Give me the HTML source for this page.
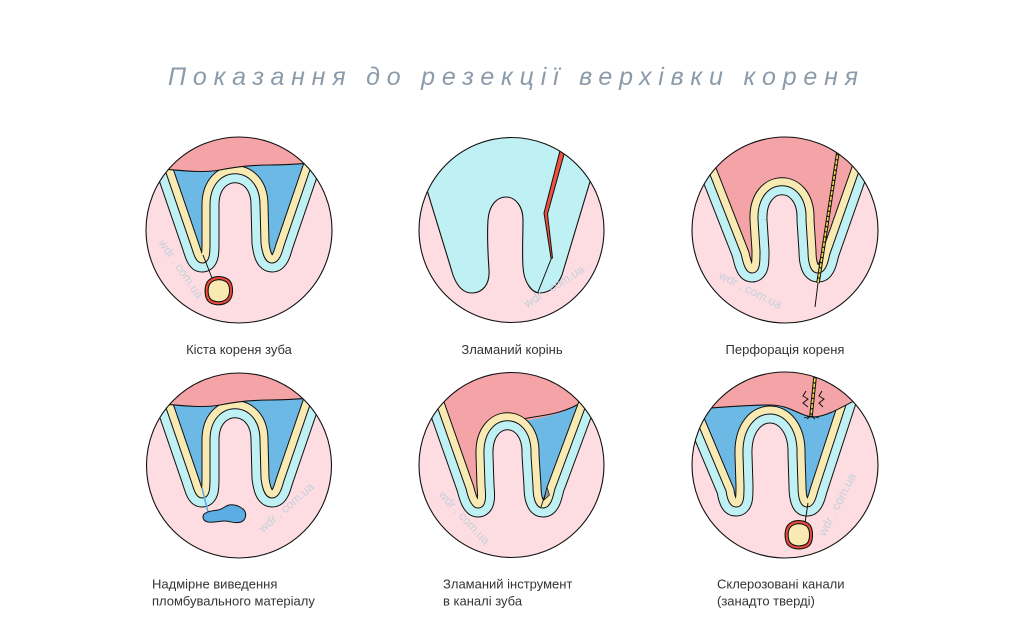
<!DOCTYPE html>
<html>
<head>
<meta charset="utf-8">
<style>
html,body{margin:0;padding:0;background:#fff;}
body{width:1024px;height:642px;overflow:hidden;}
svg{display:block;}
.lbl{font-family:"Liberation Sans",sans-serif;font-size:13px;fill:#333;}
.wm{font-family:"Liberation Sans",sans-serif;font-size:12px;fill:#c6d0dc;}
</style>
</head>
<body>
<svg width="1024" height="642" viewBox="0 0 1024 642" xmlns="http://www.w3.org/2000/svg">
<defs>
<clipPath id="c1"><circle cx="99" cy="105" r="93"/></clipPath>
<clipPath id="c2"><circle cx="101.5" cy="105" r="92.5"/></clipPath>
<clipPath id="c3"><circle cx="100" cy="105" r="93"/></clipPath>
<clipPath id="c4"><circle cx="99" cy="105.5" r="92.5"/></clipPath>
<clipPath id="c5"><circle cx="101.5" cy="105" r="92.5"/></clipPath>
<clipPath id="c6"><circle cx="100" cy="105" r="93"/></clipPath>
</defs>

<!-- Title -->
<text x="168" y="85" textLength="690" lengthAdjust="spacing" font-family="Liberation Sans, sans-serif" font-style="italic" font-size="25" fill="#8c9baa">Показання до резекції верхівки кореня</text>

<!-- ===== Circle 1: cyst ===== -->
<g transform="translate(140,125)">
 <g clip-path="url(#c1)">
  <circle cx="99" cy="105" r="93" fill="#fddde1"/>
  <path d="M7,-20 L55,120 C57,126 59,134 62,134 C66,134 66,126 66,118 L66,80 C66,33 124,33 124,80 L125,118 C126,126 128,134 132,134 C136,134 138,127 140,120 L188,-20" fill="none" stroke="#111" stroke-width="27" stroke-linejoin="round"/>
  <path d="M7,-20 L55,120 C57,126 59,134 62,134 C66,134 66,126 66,118 L66,80 C66,33 124,33 124,80 L125,118 C126,126 128,134 132,134 C136,134 138,127 140,120 L188,-20" fill="none" stroke="#bff0f3" stroke-width="25" stroke-linejoin="round"/>
  <path d="M7,-20 L55,120 C57,126 59,134 62,134 C66,134 66,126 66,118 L66,80 C66,33 124,33 124,80 L125,118 C126,126 128,134 132,134 C136,134 138,127 140,120 L188,-20 Z" fill="#6cb9e6"/>
  <path d="M7,-20 L55,120 C57,126 59,134 62,134 C66,134 66,126 66,118 L66,80 C66,33 124,33 124,80 L125,118 C126,126 128,134 132,134 C136,134 138,127 140,120 L188,-20" fill="none" stroke="#111" stroke-width="9" stroke-linejoin="round"/>
  <path d="M7,-20 L55,120 C57,126 59,134 62,134 C66,134 66,126 66,118 L66,80 C66,33 124,33 124,80 L125,118 C126,126 128,134 132,134 C136,134 138,127 140,120 L188,-20" fill="none" stroke="#f8eab2" stroke-width="7" stroke-linejoin="round"/>
  <path d="M0,42 C30,44 60,49 80,45 C95,42 110,40 130,40 C150,40 170,38 200,36 L200,-10 L0,-10 Z" fill="#f4a4a7" stroke="#111" stroke-width="1.1"/>
  <path d="M63,130 L72,153" stroke="#111" stroke-width="1" fill="none"/>
  <path d="M68,157 C73,151 82,151 88,155 C93,159 93,170 89,175 C83,181 72,180 68,175 C65,170 65,162 68,157 Z" transform="translate(79,166) scale(1.05) translate(-79,-166)" fill="#ee4b3d" stroke="#111" stroke-width="1.05"/>
  <path d="M68,157 C73,151 82,151 88,155 C93,159 93,170 89,175 C83,181 72,180 68,175 C65,170 65,162 68,157 Z" transform="translate(79,166) scale(0.82) translate(-79,-166)" fill="#f8eab2" stroke="#111" stroke-width="1.3"/>
  <text class="wm" x="18" y="118" transform="rotate(55 18 118)">wdr . com.ua</text>
 </g>
 <circle cx="99" cy="105" r="93" fill="none" stroke="#111" stroke-width="1.1"/>
</g>

<!-- ===== Circle 2: fractured root ===== -->
<g transform="translate(410,125)">
 <g clip-path="url(#c2)">
  <circle cx="101.5" cy="105" r="92.5" fill="#fddde1"/>
  <path d="M-9,-20 L43,150 C48,164 55,168 62,168 C72,168 80,160 79,145 C78,130 77,110 78,95 C79,80 87,72 96,72 C106,72 113,82 113,95 C113,110 112,128 113,142 C114,158 122,168 130,168 C140,168 148,160 152,150 L203,-20 Z" fill="#bff0f3" stroke="#111" stroke-width="1.1"/>
  <path d="M153,14 L158,15 L137.5,89 L142.5,133 L141,133 L134,88 Z" fill="#f0503f" stroke="#111" stroke-width="1" stroke-linejoin="round"/>
  <path d="M141.5,133 L128,167" stroke="#111" stroke-width="1" fill="none"/>
  <text class="wm" x="117" y="183" transform="rotate(-32 117 183)">wdr . com.ua</text>
 </g>
 <circle cx="101.5" cy="105" r="92.5" fill="none" stroke="#111" stroke-width="1.1"/>
</g>

<!-- ===== Circle 3: perforation ===== -->
<g transform="translate(685,125)">
 <g clip-path="url(#c3)">
  <circle cx="100" cy="105" r="93" fill="#fddde1"/>
  <path d="M2,-20 L60,128 C62,137 64,144 67,144 C71,144 71,136 71,126 L69,95 C67,44 127,44 125,95 L127,126 C127,136 129,144 133,144 C137,144 139,137 141,128 L193,-20" fill="none" stroke="#111" stroke-width="27" stroke-linejoin="round"/>
  <path d="M2,-20 L60,128 C62,137 64,144 67,144 C71,144 71,136 71,126 L69,95 C67,44 127,44 125,95 L127,126 C127,136 129,144 133,144 C137,144 139,137 141,128 L193,-20" fill="none" stroke="#bff0f3" stroke-width="25" stroke-linejoin="round"/>
  <path d="M2,-20 L60,128 C62,137 64,144 67,144 C71,144 71,136 71,126 L69,95 C67,44 127,44 125,95 L127,126 C127,136 129,144 133,144 C137,144 139,137 141,128 L193,-20 Z" fill="#f4a4a7"/>
  <path d="M2,-20 L60,128 C62,137 64,144 67,144 C71,144 71,136 71,126 L69,95 C67,44 127,44 125,95 L127,126 C127,136 129,144 133,144 C137,144 139,137 141,128 L193,-20" fill="none" stroke="#111" stroke-width="9" stroke-linejoin="round"/>
  <path d="M2,-20 L60,128 C62,137 64,144 67,144 C71,144 71,136 71,126 L69,95 C67,44 127,44 125,95 L127,126 C127,136 129,144 133,144 C137,144 139,137 141,128 L193,-20" fill="none" stroke="#f8eab2" stroke-width="7" stroke-linejoin="round"/>
  <path d="M154,20 L133,158" stroke="#111" stroke-width="3.6" fill="none"/>
  <path d="M154,20 L133,158" stroke="#f5d94a" stroke-width="1.6" stroke-dasharray="4 1.2" fill="none"/>
  <path d="M133,158 L130,182" stroke="#111" stroke-width="1" fill="none"/>
  <text class="wm" x="33" y="153" transform="rotate(27 33 153)">wdr . com.ua</text>
 </g>
 <circle cx="100" cy="105" r="93" fill="none" stroke="#111" stroke-width="1.1"/>
</g>

<!-- ===== Circle 4: overfill ===== -->
<g transform="translate(140,360)">
 <g clip-path="url(#c4)">
  <circle cx="99" cy="105.5" r="92.5" fill="#fddde1"/>
  <path d="M7,-20 L55,120 C57,126 59,134 62,134 C66,134 66,126 66,118 L66,80 C66,33 124,33 124,80 L125,118 C126,126 128,134 132,134 C136,134 138,127 140,120 L188,-20" fill="none" stroke="#111" stroke-width="27" stroke-linejoin="round"/>
  <path d="M7,-20 L55,120 C57,126 59,134 62,134 C66,134 66,126 66,118 L66,80 C66,33 124,33 124,80 L125,118 C126,126 128,134 132,134 C136,134 138,127 140,120 L188,-20" fill="none" stroke="#bff0f3" stroke-width="25" stroke-linejoin="round"/>
  <path d="M7,-20 L55,120 C57,126 59,134 62,134 C66,134 66,126 66,118 L66,80 C66,33 124,33 124,80 L125,118 C126,126 128,134 132,134 C136,134 138,127 140,120 L188,-20 Z" fill="#6cb9e6"/>
  <path d="M7,-20 L55,120 C57,126 59,134 62,134 C66,134 66,126 66,118 L66,80 C66,33 124,33 124,80 L125,118 C126,126 128,134 132,134 C136,134 138,127 140,120 L188,-20" fill="none" stroke="#111" stroke-width="9" stroke-linejoin="round"/>
  <path d="M7,-20 L55,120 C57,126 59,134 62,134 C66,134 66,126 66,118 L66,80 C66,33 124,33 124,80 L125,118 C126,126 128,134 132,134 C136,134 138,127 140,120 L188,-20" fill="none" stroke="#f8eab2" stroke-width="7" stroke-linejoin="round"/>
  <path d="M0,42 C30,44 60,49 80,45 C95,42 110,40 130,40 C150,40 170,38 200,36 L200,-10 L0,-10 Z" fill="#f4a4a7" stroke="#111" stroke-width="1.1"/>
  <path d="M62,128 L68,152" stroke="#5aaee3" stroke-width="1.6" fill="none"/>
  <path d="M64,154 C68,151 72,151 78,150 C83,149 85,146 89,145 C94,144 100,146 104,150 C107,154 106,160 101,162 C95,164 90,161 85,161 C79,161 74,163 68,162 C63,161 62,157 64,154 Z" fill="#5aaee3" stroke="#111" stroke-width="1"/>
  <text class="wm" x="123" y="173" transform="rotate(-41 123 173)">wdr . com.ua</text>
 </g>
 <circle cx="99" cy="105.5" r="92.5" fill="none" stroke="#111" stroke-width="1.1"/>
</g>

<!-- ===== Circle 5: broken instrument ===== -->
<g transform="translate(410,360)">
 <g clip-path="url(#c5)">
  <circle cx="101.5" cy="105" r="92.5" fill="#fddde1"/>
  <path d="M8,-20 L60,128 C62,137 65,144 68,144 C72,144 72,136 71,126 L70,95 C68,44 127,44 125,95 L127,126 C127,136 129,144 133,144 C137,144 139,137 141,128 L196,-20" fill="none" stroke="#111" stroke-width="27" stroke-linejoin="round"/>
  <path d="M8,-20 L60,128 C62,137 65,144 68,144 C72,144 72,136 71,126 L70,95 C68,44 127,44 125,95 L127,126 C127,136 129,144 133,144 C137,144 139,137 141,128 L196,-20" fill="none" stroke="#bff0f3" stroke-width="25" stroke-linejoin="round"/>
  <path d="M8,-20 L60,128 C62,137 65,144 68,144 C72,144 72,136 71,126 L70,95 C68,44 127,44 125,95 L127,126 C127,136 129,144 133,144 C137,144 139,137 141,128 L196,-20 Z" fill="#f4a4a7"/>
  <path d="M113,62 C130,57 150,56 173,42 L141,128 L133,144 L127,126 L125,95 C125,80 120,68 113,62 Z" fill="#6cb9e6"/>
  <path d="M113,59 C130,55 150,56 174,41" fill="none" stroke="#111" stroke-width="1.1"/>
  <path d="M8,-20 L60,128 C62,137 65,144 68,144 C72,144 72,136 71,126 L70,95 C68,44 127,44 125,95 L127,126 C127,136 129,144 133,144 C137,144 139,137 141,128 L196,-20" fill="none" stroke="#111" stroke-width="9" stroke-linejoin="round"/>
  <path d="M8,-20 L60,128 C62,137 65,144 68,144 C72,144 72,136 71,126 L70,95 C68,44 127,44 125,95 L127,126 C127,136 129,144 133,144 C137,144 139,137 141,128 L196,-20" fill="none" stroke="#f8eab2" stroke-width="7" stroke-linejoin="round"/>
  <path d="M131,147 L137,129" stroke="#111" stroke-width="0.9" fill="none"/>
  <path d="M134,140 L137,127 L139.5,135 Z" fill="#8d9ba8" stroke="#111" stroke-width="0.7"/>
  <text class="wm" x="28" y="135" transform="rotate(47 28 135)">wdr . com.ua</text>
 </g>
 <circle cx="101.5" cy="105" r="92.5" fill="none" stroke="#111" stroke-width="1.1"/>
</g>

<!-- ===== Circle 6: sclerosed canals ===== -->
<g transform="translate(685,360)">
 <g clip-path="url(#c6)">
  <circle cx="100" cy="105" r="93" fill="#fddde1"/>
  <path d="M-18,-20 L45,130 C46,138 48,143 51,143 C55,143 55,136 55,126 L54,95 C52,35 118,35 116,95 L117,126 C117,137 119,143 122,143 C125,143 127,138 129,130 L178,-20" fill="none" stroke="#111" stroke-width="27" stroke-linejoin="round"/>
  <path d="M-18,-20 L45,130 C46,138 48,143 51,143 C55,143 55,136 55,126 L54,95 C52,35 118,35 116,95 L117,126 C117,137 119,143 122,143 C125,143 127,138 129,130 L178,-20" fill="none" stroke="#bff0f3" stroke-width="25" stroke-linejoin="round"/>
  <path d="M-18,-20 L45,130 C46,138 48,143 51,143 C55,143 55,136 55,126 L54,95 C52,35 118,35 116,95 L117,126 C117,137 119,143 122,143 C125,143 127,138 129,130 L178,-20 Z" fill="#6cb9e6"/>
  <path d="M-18,-20 L45,130 C46,138 48,143 51,143 C55,143 55,136 55,126 L54,95 C52,35 118,35 116,95 L117,126 C117,137 119,143 122,143 C125,143 127,138 129,130 L178,-20" fill="none" stroke="#111" stroke-width="9" stroke-linejoin="round"/>
  <path d="M-18,-20 L45,130 C46,138 48,143 51,143 C55,143 55,136 55,126 L54,95 C52,35 118,35 116,95 L117,126 C117,137 119,143 122,143 C125,143 127,138 129,130 L178,-20" fill="none" stroke="#f8eab2" stroke-width="7" stroke-linejoin="round"/>
  <path d="M0,50 C30,48 55,45 85,45 C105,45 115,56 127,57 C140,57 152,50 178,36 L200,30 L200,-10 L0,-10 Z" fill="#f4a4a7" stroke="#111" stroke-width="1.1"/>
  <path d="M131,8 L126,56" stroke="#111" stroke-width="3.6" fill="none"/>
  <path d="M131,8 L126,56" stroke="#f5d94a" stroke-width="1.6" stroke-dasharray="4 1.2" fill="none"/>
  <path d="M121,31 L118,36 L123,39 L118,43 L123,47" fill="none" stroke="#111" stroke-width="1"/>
  <path d="M137,31 L134,36 L139,39 L134,43 L138,47" fill="none" stroke="#111" stroke-width="1"/>
  <path d="M126,56 L119,58 M126,56 L122,59 M126,56 L130,59 M126,56 L134,58" fill="none" stroke="#111" stroke-width="0.8"/>
  <path d="M123,143 L120,163" stroke="#111" stroke-width="1" fill="none"/>
  <path d="M103,166 C108,160 117,160 123,164 C128,168 128,180 124,185 C118,190 107,189 103,184 C100,179 100,171 103,166 Z" transform="translate(114,175) scale(1.05) translate(-114,-175)" fill="#ee4b3d" stroke="#111" stroke-width="1.05"/>
  <path d="M103,166 C108,160 117,160 123,164 C128,168 128,180 124,185 C118,190 107,189 103,184 C100,179 100,171 103,166 Z" transform="translate(114,175) scale(0.82) translate(-114,-175)" fill="#f8eab2" stroke="#111" stroke-width="1.3"/>
  <text class="wm" x="140" y="177" transform="rotate(-63 140 177)">wdr . com.ua</text>
 </g>
 <circle cx="100" cy="105" r="93" fill="none" stroke="#111" stroke-width="1.1"/>
</g>

<!-- Labels -->
<text class="lbl" x="239" y="354" text-anchor="middle">Кіста кореня зуба</text>
<text class="lbl" x="512" y="354" text-anchor="middle">Зламаний корінь</text>
<text class="lbl" x="785" y="354" text-anchor="middle">Перфорація кореня</text>

<text class="lbl" x="152" y="588.5">Надмірне виведення</text>
<text class="lbl" x="152" y="605.5">пломбувального матеріалу</text>
<text class="lbl" x="443" y="588.5">Зламаний інструмент</text>
<text class="lbl" x="443" y="605.5">в каналі зуба</text>
<text class="lbl" x="717" y="588.5">Склерозовані канали</text>
<text class="lbl" x="717" y="605.5">(занадто тверді)</text>
</svg>
</body>
</html>
